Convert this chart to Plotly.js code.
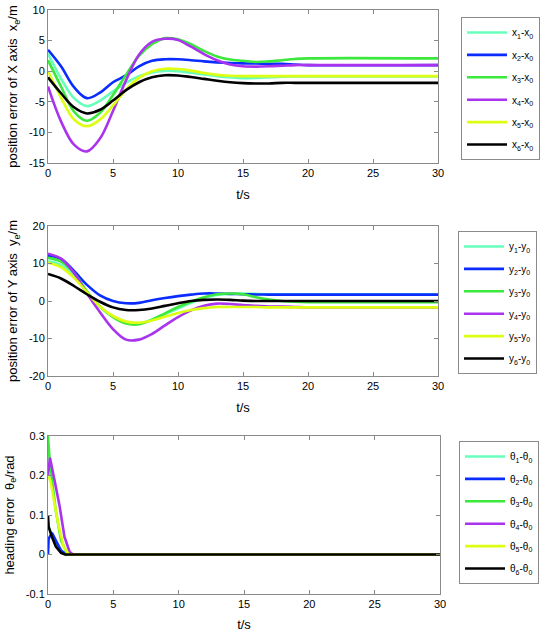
<!DOCTYPE html>
<html><head><meta charset="utf-8">
<script src="https://cdn.plot.ly/plotly-3.0.1.min.js"></script>
<style>html,body{margin:0;padding:0;background:#fff}#chart{width:544px;height:632px}</style>
</head><body><div id="chart"></div>
<script>
// ---- time axis for position plots ----
const tPos = [0,1,2,3,4,5,6,7,8,9,10,11,12,13,14,15,16,17,18,19,20,30];

// ---- X-axis position error x_i - x_0 ----
const x1 = [2.9,-1.2,-4.4,-5.7,-4.8,-3.3,-1.9,-0.8,-0.2,0.05,0.0,-0.25,-0.55,-0.8,-1.0,-1.15,-1.1,-1.0,-0.9,-0.85,-0.85,-0.85];
const x2 = [3.5,0.8,-2.6,-4.4,-3.5,-1.8,-0.7,0.8,1.7,1.95,1.95,1.8,1.6,1.45,1.35,1.28,1.25,1.2,1.2,1.1,1.0,1.0];
const x3 = [1.8,-2.5,-6.6,-8.1,-6.8,-3.9,-0.6,2.5,4.4,5.4,5.2,4.4,3.3,2.4,1.9,1.7,1.5,1.6,1.8,2.0,2.1,2.1];
const x4 = [-2.5,-8.2,-12.0,-13.1,-11.0,-6.5,-1.5,2.7,4.8,5.3,5.1,4.0,2.8,1.8,1.1,0.8,0.75,0.8,0.9,1.0,1.0,1.0];
const x5 = [0.0,-4.3,-7.9,-9.0,-7.9,-5.6,-3.0,-1.1,0.0,0.4,0.35,0.1,-0.3,-0.6,-0.75,-0.8,-0.8,-0.8,-0.8,-0.8,-0.8,-0.8];
const x6 = [-1.0,-3.6,-5.9,-6.9,-6.3,-4.8,-3.1,-1.8,-1.0,-0.65,-0.7,-0.95,-1.25,-1.55,-1.8,-1.95,-2.0,-2.0,-1.9,-1.9,-1.9,-1.9];

// ---- Y-axis position error y_i - y_0 ----
const y1 = [10.6,9.6,6.8,2.4,-1.5,-4.2,-5.8,-6.0,-5.0,-3.5,-2.0,-0.5,0.8,1.6,1.9,2.0,1.9,1.8,1.8,1.8,1.8,1.8];
const y2 = [12.1,11.2,8.0,4.3,1.5,0.0,-0.6,-0.5,0.2,0.8,1.3,1.7,2.0,2.0,1.9,1.8,1.75,1.7,1.7,1.7,1.7,1.7];
const y3 = [11.5,10.5,7.5,2.5,-1.5,-4.3,-6.0,-6.2,-5.0,-3.3,-1.6,-0.2,1.0,1.8,2.0,1.8,1.0,0.4,0.0,-0.2,-0.3,-0.3];
const y4 = [12.6,11.3,7.5,2.0,-3.0,-7.5,-10.3,-10.3,-8.8,-6.5,-4.3,-2.5,-1.3,-0.7,-0.8,-1.1,-1.3,-1.5,-1.5,-1.6,-1.7,-1.7];
const y5 = [10.2,9.0,6.2,2.3,-1.5,-4.0,-5.5,-5.8,-5.2,-4.2,-3.2,-2.4,-1.9,-1.6,-1.6,-1.6,-1.6,-1.7,-1.7,-1.7,-1.7,-1.7];
const y6 = [7.2,6.0,4.0,1.8,-0.2,-1.7,-2.4,-2.4,-2.0,-1.3,-0.6,0.0,0.3,0.4,0.3,0.1,0.0,0.0,0.0,0.0,0.0,0.0];

// ---- heading error theta_i - theta_0 ----
const th1T = [0,0.05,0.3,0.6,1.0,1.4,30];
const th1  = [0.08,0.07,0.05,0.03,0.01,0,0];
const th2T = [0,0.05,0.3,0.6,1.0,1.4,30];
const th2  = [0,0.04,0.055,0.035,0.01,0,0];
const th3T = [0,0.1,0.3,0.6,1.0,1.5,30];
const th3  = [0.3,0.25,0.19,0.11,0.035,0,0];
const th4T = [0,0.15,0.5,0.9,1.26,1.65,1.9,30];
const th4  = [0.2,0.245,0.188,0.12,0.045,0.007,0,0];
const th5T = [0,0.2,0.5,0.8,1.2,1.6,30];
const th5  = [0.2,0.185,0.13,0.075,0.02,0,0];
const th6T = [0,0.05,0.3,0.6,1.0,1.3,30];
const th6  = [0.1,0.07,0.045,0.02,0.004,0,0];

// ---- labels ----
const xNames  = ['x<sub>1</sub>-x<sub>0</sub>','x<sub>2</sub>-x<sub>0</sub>','x<sub>3</sub>-x<sub>0</sub>','x<sub>4</sub>-x<sub>0</sub>','x<sub>5</sub>-x<sub>0</sub>','x<sub>6</sub>-x<sub>0</sub>'];
const yNames  = ['y<sub>1</sub>-y<sub>0</sub>','y<sub>2</sub>-y<sub>0</sub>','y<sub>3</sub>-y<sub>0</sub>','y<sub>4</sub>-y<sub>0</sub>','y<sub>5</sub>-y<sub>0</sub>','y<sub>6</sub>-y<sub>0</sub>'];
const thNames = ['θ<sub>1</sub>-θ<sub>0</sub>','θ<sub>2</sub>-θ<sub>0</sub>','θ<sub>3</sub>-θ<sub>0</sub>','θ<sub>4</sub>-θ<sub>0</sub>','θ<sub>5</sub>-θ<sub>0</sub>','θ<sub>6</sub>-θ<sub>0</sub>'];
const colors = ['#66ffbb','#0a2cff','#3be83b','#aa33ee','#ddff11','#000000'];

const tTicks = [0,5,10,15,20,25,30];
const tTickText = ['0','5','10','15','20','25','30'];
const y1Ticks = [-15,-10,-5,0,5,10];
const y1TickText = ['-15','-10','-5','0','5','10'];
const y2Ticks = [-20,-10,0,10,20];
const y2TickText = ['-20','-10','0','10','20'];
const y3Ticks = [-0.1,0,0.1,0.2,0.3];
const y3TickText = ['-0.1','0','0.1','0.2','0.3'];

const FONT = 'Liberation Sans, Arial, sans-serif';
const traces = [];
const xSeries = [x1,x2,x3,x4,x5,x6];
const ySeries = [y1,y2,y3,y4,y5,y6];
const thT = [th1T,th2T,th3T,th4T,th5T,th6T];
const thV = [th1,th2,th3,th4,th5,th6];
for (let i=0;i<6;i++){
  traces.push({x:tPos,y:xSeries[i],name:xNames[i],type:'scatter',mode:'lines',legendgroup:'a'+i,
    line:{color:colors[i],width:2.6,shape:'spline',smoothing:1},xaxis:'x',yaxis:'y',legend:'legend'});
}
for (let i=0;i<6;i++){
  traces.push({x:tPos,y:ySeries[i],name:yNames[i],type:'scatter',mode:'lines',legendgroup:'b'+i,
    line:{color:colors[i],width:2.6,shape:'spline',smoothing:1},xaxis:'x2',yaxis:'y2',legend:'legend2'});
}
for (let i=0;i<6;i++){
  traces.push({x:thT[i],y:thV[i],name:thNames[i],type:'scatter',mode:'lines',legendgroup:'c'+i,
    line:{color:colors[i],width:2.6},xaxis:'x3',yaxis:'y3',legend:'legend3'});
}

const W=544,H=632;
function xd(a,b){return [a/W,b/W];}
function yd(top,bot){return [1-bot/H,1-top/H];}
const axBase = {showline:true,mirror:'ticks',linecolor:'#8a8a8a',linewidth:1,ticks:'inside',ticklen:4,
  tickcolor:'#8a8a8a',showgrid:false,zeroline:false,tickfont:{family:FONT,size:11,color:'#000'},automargin:false};
function xaxis(anchor){return Object.assign({},axBase,{domain:xd(48,438),range:[0,30],tickmode:'array',
  tickvals:tTicks,ticktext:tTickText,anchor:anchor,
  title:{text:'t/s',font:{family:FONT,size:13,color:'#000'},standoff:11}});}
function legendAt(x,yTop){return {x:x/W,y:1-yTop/H,xanchor:'left',yanchor:'top',bordercolor:'#8a8a8a',borderwidth:1,
  bgcolor:'#fff',font:{family:FONT,size:10,color:'#000'},tracegroupgap:3.4,itemwidth:40};}

const layout = {
  width:W,height:H,margin:{l:0,r:0,t:0,b:0},paper_bgcolor:'#fff',plot_bgcolor:'#fff',
  showlegend:true,
  xaxis:xaxis('y'), xaxis2:xaxis('y2'), xaxis3:Object.assign(xaxis('y3'),{domain:xd(48,440)}),
  yaxis:Object.assign({},axBase,{domain:yd(10,163),range:[-15,10],tickmode:'array',tickvals:y1Ticks,ticktext:y1TickText,anchor:'x',
    title:{text:'position error of X axis  x<sub>e</sub>/m',font:{family:FONT,size:13,color:'#000'},standoff:8}}),
  yaxis2:Object.assign({},axBase,{domain:yd(226,376),range:[-20,20],tickmode:'array',tickvals:y2Ticks,ticktext:y2TickText,anchor:'x2',
    title:{text:'position error of Y axis  y<sub>e</sub>/m',font:{family:FONT,size:13,color:'#000'},standoff:8}}),
  yaxis3:Object.assign({},axBase,{domain:yd(436,594),range:[-0.1,0.3],tickmode:'array',tickvals:y3Ticks,ticktext:y3TickText,anchor:'x3',
    title:{text:'heading error  θ<sub>e</sub>/rad',font:{family:FONT,size:13,color:'#000'},standoff:8}}),
  legend:legendAt(461,17),
  legend2:legendAt(458,231),
  legend3:legendAt(459,441)
};
Plotly.newPlot('chart',traces,layout,{staticPlot:true,displayModeBar:false});
</script>
</body></html>
